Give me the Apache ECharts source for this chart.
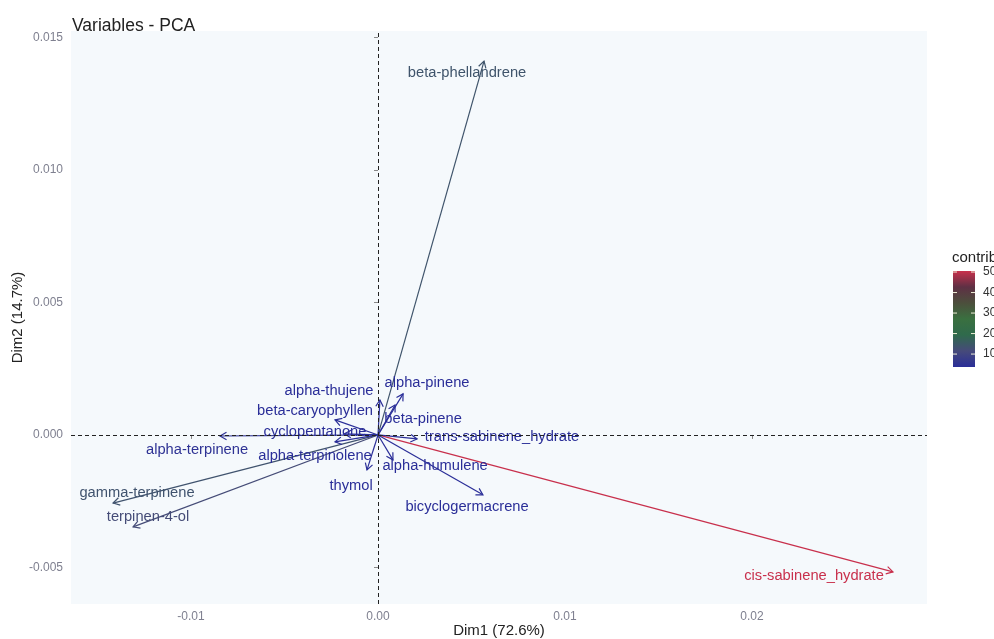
<!DOCTYPE html>
<html>
<head>
<meta charset="utf-8">
<title>Variables - PCA</title>
<script src="https://cdn.jsdelivr.net/npm/echarts@6/dist/echarts.min.js"></script>
<style>
  html, body { margin: 0; padding: 0; background: #ffffff; }
  #chart { width: 994px; height: 639px; }
</style>
</head>
<body>
<div id="chart"></div>
<script>
// Variable loadings on the first two principal components
const variables = [
  'beta-phellandrene', 'cis-sabinene_hydrate', 'gamma-terpinene', 'terpinen-4-ol',
  'alpha-terpinene', 'bicyclogermacrene', 'trans-sabinene_hydrate', 'alpha-humulene',
  'thymol', 'alpha-terpinolene', 'beta-caryophyllen', 'cyclopentanone',
  'alpha-thujene', 'alpha-pinene', 'beta-pinene'
];
const dim1 = [0.00567, 0.02754, -0.01417, -0.01310, -0.00845, 0.00561, 0.00209, 0.00080,
              -0.00059, -0.00230, -0.00230, -0.00180, 0.00010, 0.00134, 0.00091];
const dim2 = [0.01411, -0.00517, -0.00257, -0.00347, -0.00004, -0.00226, -0.00015, -0.00094,
              -0.00132, -0.00026, 0.00057, 0.00004, 0.00132, 0.00155, 0.00113];
// contribution (%) of each variable to Dim1-Dim2
const contrib = [14.0, 50.5, 13.6, 12.0, 4.7, 2.4, 0.3, 0.1, 0.2, 0.4, 0.4, 0.2, 0.1, 0.3, 0.2];
// label anchor points (data units), pushed away from overlapping arrows
const labelDim1 = [0.00476, 0.02332, -0.01289, -0.01230, -0.00968, 0.00476, 0.00663, 0.00305,
                   -0.00144, -0.00337, -0.00337, -0.00337, -0.00262, 0.00262, 0.00241];
const labelDim2 = [0.01366, -0.00532, -0.00219, -0.00309, -0.00057, -0.00272, -0.00008, -0.00117,
                   -0.00192, -0.00079, 0.00091, 0.00011, 0.00166, 0.00196, 0.00060];

const xTicks = [-0.01, 0, 0.01, 0.02];
const yTicks = [-0.005, 0, 0.005, 0.010, 0.015];
const legendTicks = [10, 20, 30, 40, 50];
const contribRange = [3.7, 50.5];
const gradientColors = ['#2a2e98', '#464a7a', '#2f6a4c', '#3a7040', '#4c4f3c', '#5e3044', '#c8304c'];

const chart = echarts.init(document.getElementById('chart'), null, { renderer: 'canvas' });

const arrowData = variables.map((n, i) => [dim1[i], dim2[i], contrib[i]]);
const labelData = variables.map((n, i) => [labelDim1[i], labelDim2[i], contrib[i]]);

const font = '"Liberation Sans", Arial, sans-serif';

// colour bar legend (drawn as graphics)
const bar = { x: 953, y: 271, w: 22, h: 96 };
const barStops = gradientColors.map((c, i) => ({ offset: 1 - i / (gradientColors.length - 1), color: c }));
const tickY = v => bar.y + bar.h - (v - contribRange[0]) / (contribRange[1] - contribRange[0]) * bar.h;
const legendGraphics = [
  { type: 'text', x: 952, y: 258,
    style: { text: 'contrib', font: '15px ' + font, fill: '#222', verticalAlign: 'middle' } },
  { type: 'rect', shape: { x: bar.x, y: bar.y, width: bar.w, height: bar.h },
    style: { fill: new echarts.graphic.LinearGradient(0, 0, 0, 1, barStops) } }
];
legendTicks.forEach(v => {
  const y = tickY(v);
  legendGraphics.push(
    { type: 'line', shape: { x1: bar.x, y1: y, x2: bar.x + 4, y2: y }, style: { stroke: '#f0f0d8', lineWidth: 1 } },
    { type: 'line', shape: { x1: bar.x + bar.w - 4, y1: y, x2: bar.x + bar.w, y2: y }, style: { stroke: '#f0f0d8', lineWidth: 1 } },
    { type: 'text', x: bar.x + bar.w + 8, y: y,
      style: { text: String(v), font: '12px ' + font, fill: '#333', verticalAlign: 'middle' } }
  );
});

const option = {
  backgroundColor: '#ffffff',
  animation: false,
  title: {
    text: 'Variables - PCA',
    left: 67, top: 12,
    textStyle: { fontFamily: font, fontSize: 17.5, fontWeight: 'normal', color: '#222' }
  },
  grid: {
    left: 71, right: 67, top: 31, bottom: 35,
    outerBoundsMode: 'none',
    containLabel: false,
    show: true, backgroundColor: '#f5f9fc', borderWidth: 0
  },
  visualMap: {
    show: false,
    type: 'continuous',
    min: contribRange[0], max: contribRange[1],
    dimension: 2,
    seriesIndex: [0, 1],
    inRange: { color: gradientColors },
    outOfRange: { color: [gradientColors[0]] }
  },
  xAxis: {
    type: 'value',
    min: -0.01642, max: 0.02936,
    name: 'Dim1 (72.6%)',
    nameLocation: 'middle', nameGap: 19, nameMoveOverlap: false,
    nameTextStyle: { fontFamily: font, fontSize: 15, color: '#222' },
    axisLine: { show: false },
    splitLine: { show: false },
    axisTick: { show: true, customValues: xTicks, length: 4, lineStyle: { color: '#888' } },
    axisLabel: { customValues: xTicks, fontFamily: font, fontSize: 12, color: '#7f8090', margin: 7,
                 formatter: v => v.toFixed(2) }
  },
  yAxis: {
    type: 'value',
    min: -0.00638, max: 0.015245,
    name: 'Dim2 (14.7%)',
    nameLocation: 'middle', nameGap: 46, nameRotate: 90, nameMoveOverlap: false,
    nameTextStyle: { fontFamily: font, fontSize: 15, color: '#222' },
    axisLine: { show: false },
    splitLine: { show: false },
    axisTick: { show: true, customValues: yTicks, length: 4, lineStyle: { color: '#888' } },
    axisLabel: { customValues: yTicks, fontFamily: font, fontSize: 12, color: '#7f8090', margin: 8,
                 formatter: v => v.toFixed(3) }
  },
  series: [
    {
      name: 'arrows',
      type: 'custom',
      data: arrowData,
      encode: { x: 0, y: 1 },
      z: 3,
      renderItem: function (params, api) {
        const o = api.coord([0, 0]);
        const p = api.coord([api.value(0), api.value(1)]);
        const color = api.visual('color');
        const ang = Math.atan2(p[1] - o[1], p[0] - o[0]);
        const L = 7.5, a = Math.PI / 6;
        const h1 = [p[0] - L * Math.cos(ang - a), p[1] - L * Math.sin(ang - a)];
        const h2 = [p[0] - L * Math.cos(ang + a), p[1] - L * Math.sin(ang + a)];
        return {
          type: 'group',
          children: [
            { type: 'line', shape: { x1: o[0], y1: o[1], x2: p[0], y2: p[1] },
              style: { stroke: color, lineWidth: 1.2 } },
            { type: 'polyline', shape: { points: [h1, p, h2] },
              style: { stroke: color, fill: null, lineWidth: 1.2 } }
          ]
        };
      },
      markLine: {
        silent: true,
        symbol: 'none',
        label: { show: false },
        lineStyle: { color: '#222', type: [4, 3], width: 1 },
        data: [{ xAxis: 0 }, { yAxis: 0 }]
      }
    },
    {
      name: 'labels',
      type: 'custom',
      data: labelData,
      encode: { x: 0, y: 1 },
      z: 4,
      renderItem: function (params, api) {
        const p = api.coord([api.value(0), api.value(1)]);
        return {
          type: 'text',
          x: p[0], y: p[1],
          style: {
            text: variables[params.dataIndex],
            font: '14.7px ' + font,
            fill: api.visual('color'),
            align: 'center',
            verticalAlign: 'middle'
          }
        };
      }
    }
  ],
  graphic: legendGraphics
};

chart.setOption(option);
</script>
</body>
</html>
